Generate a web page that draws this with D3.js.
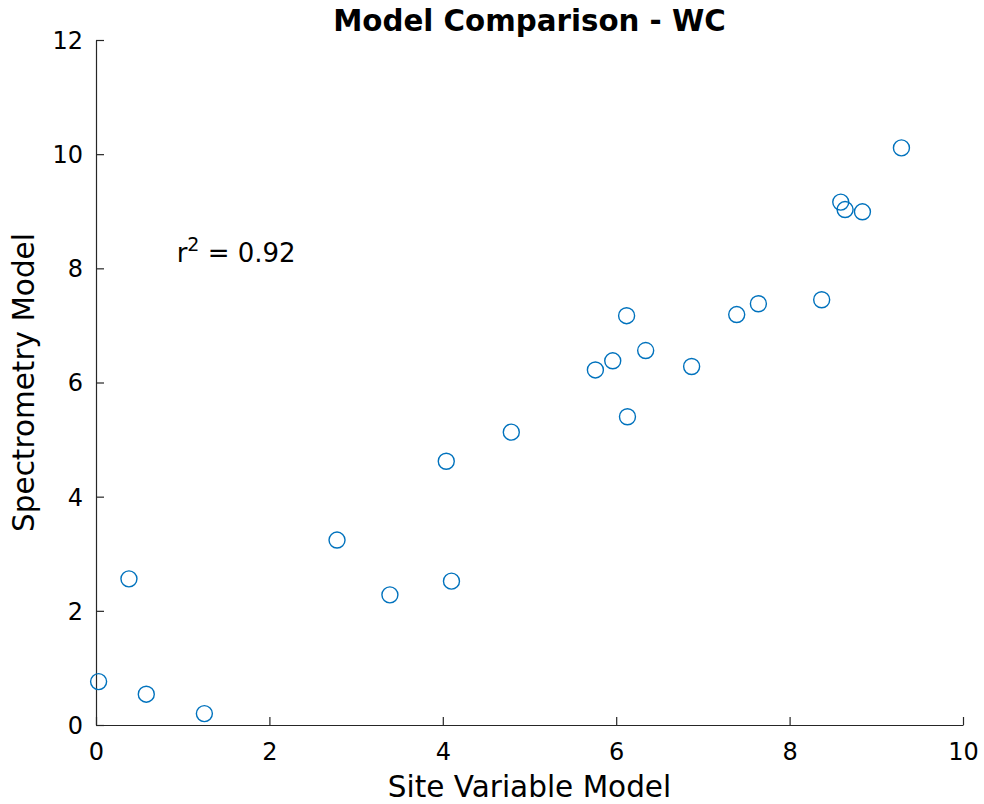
<!DOCTYPE html>
<html>
<head>
<meta charset="utf-8">
<script src="https://cdn.jsdelivr.net/npm/d3@7"></script>
<style>
  html, body { margin: 0; padding: 0; background: #fff; }
  svg { display: block; }
  text { font-family: "DejaVu Sans", sans-serif; }
</style>
</head>
<body>
<svg id="chart" width="984" height="804"></svg>
<script>
// ---- data ----
const siteVariable = [0.03, 0.38, 0.58, 1.25, 2.78, 3.39, 4.10, 4.04, 4.79, 5.76, 5.96, 6.12, 6.34, 6.13, 6.87, 7.39, 7.64, 8.37, 9.29, 8.59, 8.64, 8.84];
const spectrometry = [0.76, 2.56, 0.54, 0.20, 3.24, 2.28, 2.52, 4.62, 5.13, 6.22, 6.38, 7.17, 6.56, 5.40, 6.28, 7.19, 7.38, 7.45, 10.11, 9.16, 9.03, 8.99];
const xTicks = [0, 2, 4, 6, 8, 10];
const yTicks = [0, 2, 4, 6, 8, 10, 12];
const titleText = "Model Comparison - WC";
const xLabel = "Site Variable Model";
const yLabel = "Spectrometry Model";
const r2Value = "0.92";

// ---- layout ----
const svg = d3.select("#chart");
const mLeft = 96, mRight = 963, mTop = 40, mBottom = 725;
const x = d3.scaleLinear().domain([0, 10]).range([mLeft, mRight]);
const y = d3.scaleLinear().domain([0, 12]).range([mBottom, mTop]);
const axisColor = "#262626";

const xAxis = d3.axisBottom(x).tickValues(xTicks).tickSizeInner(-8).tickSizeOuter(0).tickPadding(18).tickFormat(d3.format("d"));
const yAxis = d3.axisLeft(y).tickValues(yTicks).tickSizeInner(-8).tickSizeOuter(0).tickPadding(13).tickFormat(d3.format("d"));

const gx = svg.append("g").attr("transform", `translate(0,${mBottom})`).call(xAxis);
const gy = svg.append("g").attr("transform", `translate(${mLeft},0)`).call(yAxis);
[gx, gy].forEach(g => {
  g.select(".domain").attr("stroke", axisColor).attr("stroke-width", 1.2);
  g.selectAll(".tick line").attr("stroke", axisColor).attr("stroke-width", 1.2);
  g.selectAll(".tick text").attr("fill", "#000").style("font-size", "24px").style("font-family", "DejaVu Sans, sans-serif");
});
gx.selectAll(".tick text").attr("dy", "0.71em");
gy.selectAll(".tick text").attr("dy", "0.35em");

// points
const pts = siteVariable.map((v, i) => ({ xv: v, yv: spectrometry[i] }));
svg.append("g").selectAll("circle").data(pts).join("circle")
  .attr("cx", d => x(d.xv))
  .attr("cy", d => y(d.yv))
  .attr("r", 8)
  .attr("fill", "none")
  .attr("stroke", "#0072BD")
  .attr("stroke-width", 1.4);

// title
svg.append("text")
  .attr("x", (mLeft + mRight) / 2).attr("y", 31)
  .attr("text-anchor", "middle")
  .style("font-size", "29.3px").style("font-weight", "bold")
  .text(titleText);

// x label
svg.append("text")
  .attr("x", (mLeft + mRight) / 2).attr("y", 797)
  .attr("text-anchor", "middle")
  .style("font-size", "29.5px")
  .text(xLabel);

// y label
svg.append("text")
  .attr("transform", `translate(34,${(mTop + mBottom) / 2}) rotate(-90)`)
  .attr("text-anchor", "middle")
  .style("font-size", "29.5px")
  .text(yLabel);

// r^2 annotation
const ann = svg.append("text")
  .attr("x", x(0.93)).attr("y", 262)
  .style("font-size", "26px");
ann.append("tspan").text("r");
ann.append("tspan").attr("dy", -11).style("font-size", "19px").text("2");
ann.append("tspan").attr("dy", 11).text(" = " + r2Value);
</script>
</body>
</html>
